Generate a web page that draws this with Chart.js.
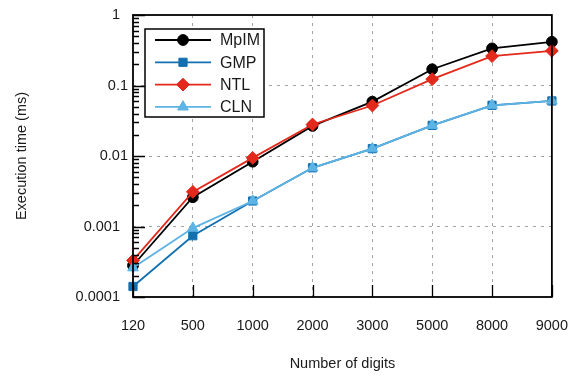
<!DOCTYPE html>
<html lang="en">
<head>
    <meta charset="UTF-8">
    <title>Execution time vs number of digits</title>
    <script src="https://cdn.jsdelivr.net/npm/chart.js"></script>
    <style>
body {
    margin: 0;
    padding: 0;
    background-color: #fff;
}

.chart-container {
    width: 588px;
    height: 376px;
}
    </style>
</head>
<body>
    <div class="chart-container">
        <canvas id="timeChart" width="588" height="376"></canvas>
    </div>

    <script>
        // Data
        const digits = ['120', '500', '1000', '2000', '3000', '5000', '8000', '9000'];
        const mpimTimes = [0.00028, 0.0026, 0.0083, 0.0267, 0.059, 0.17, 0.336, 0.417];
        const gmpTimes = [0.000141, 0.00074, 0.0023, 0.0068, 0.0127, 0.0272, 0.0524, 0.0604];
        const ntlTimes = [0.00033, 0.0031, 0.0094, 0.028, 0.052, 0.123, 0.261, 0.31];
        const clnTimes = [0.00026, 0.00095, 0.0023, 0.0068, 0.0127, 0.0272, 0.0524, 0.0604];

        // Tick labels for the log axis
        const yMajorTicks = [0.0001, 0.001, 0.01, 0.1, 1];
        const yMinorSteps = [2, 3, 4, 5, 6, 7, 8, 9];

        const FONT = "'Liberation Sans', Arial, sans-serif";
        const TEXT = '#1a1a1a';
        const GRID = '#a2a2a2';

        const yAllTicks = [];
        yMajorTicks.forEach((m, i) => {
            yAllTicks.push(m);
            if (i < yMajorTicks.length - 1) {
                yMinorSteps.forEach(s => yAllTicks.push(+(m * s).toPrecision(3)));
            }
        });

        function isMajor(v) {
            return yMajorTicks.some(m => Math.abs(m - v) / m < 1e-6);
        }

        // frame, inward tick marks and the boxed legend
        const framePlugin = {
            id: 'frame',
            afterDatasetsDraw(chart) {
                const ctx = chart.ctx;
                const area = chart.chartArea;
                const x = chart.scales.x;
                const y = chart.scales.y;
                ctx.save();
                ctx.strokeStyle = '#000';
                ctx.lineWidth = 1.3;
                ctx.beginPath();
                yAllTicks.forEach(v => {
                    const py = Math.round(y.getPixelForValue(v)) + 0.5;
                    const len = isMajor(v) ? 12 : 6;
                    ctx.moveTo(area.left, py);
                    ctx.lineTo(area.left + len, py);
                });
                digits.forEach((d, i) => {
                    const px = Math.round(x.getPixelForValue(i)) + 0.5;
                    ctx.moveTo(px, area.bottom);
                    ctx.lineTo(px, area.bottom - 12);
                });
                ctx.stroke();
                ctx.lineWidth = 1.8;
                ctx.strokeRect(area.left, area.top, area.right - area.left, area.bottom - area.top);

                // legend
                const lx = area.left + 12;
                const ly = area.top + 14;
                ctx.fillStyle = '#fff';
                ctx.fillRect(lx, ly, 119, 88);
                ctx.strokeStyle = '#000';
                ctx.lineWidth = 1.5;
                ctx.strokeRect(lx, ly, 119, 88);
                ctx.font = '16px ' + FONT;
                ctx.textBaseline = 'middle';
                ctx.textAlign = 'left';
                chart.data.datasets.forEach((ds, i) => {
                    const ry = ly + 11 + i * 22.3;
                    ctx.strokeStyle = ds.borderColor;
                    ctx.lineWidth = ds.borderWidth;
                    ctx.beginPath();
                    ctx.moveTo(lx + 10, ry);
                    ctx.lineTo(lx + 66, ry);
                    ctx.stroke();
                    ctx.fillStyle = ds.pointBackgroundColor;
                    ctx.strokeStyle = ds.pointBorderColor;
                    ctx.lineWidth = ds.pointBorderWidth;
                    Chart.helpers.drawPoint(ctx, {
                        pointStyle: ds.pointStyle,
                        radius: ds.pointRadius,
                        borderWidth: ds.pointBorderWidth
                    }, lx + 38, ry);
                    ctx.fillStyle = TEXT;
                    ctx.fillText(ds.label, lx + 75, ry + 1);
                });
                ctx.restore();
            }
        };

        function series(label, data, color, style, radius, order) {
            return {
                label: label,
                data: data,
                borderColor: color,
                backgroundColor: color,
                pointBackgroundColor: color,
                pointBorderColor: color,
                pointStyle: style,
                pointRadius: radius,
                pointBorderWidth: 1,
                borderWidth: 1.8,
                tension: 0,
                order: order
            };
        }

        const ctx = document.getElementById('timeChart').getContext('2d');
        const timeChart = new Chart(ctx, {
            type: 'line',
            data: {
                labels: digits,
                datasets: [
                    series('MpIM', mpimTimes, '#000000', 'circle', 5.4, 3),
                    series('GMP', gmpTimes, '#1270b0', 'rect', 5.8, 2),
                    series('NTL', ntlTimes, '#e3281c', 'rectRot', 6.4, 1),
                    series('CLN', clnTimes, '#5cb3e4', 'triangle', 6.2, 0)
                ]
            },
            options: {
                responsive: false,
                animation: false,
                layout: {
                    padding: { left: 0, right: 27, top: 15, bottom: 0 }
                },
                plugins: {
                    legend: { display: false },
                    tooltip: { enabled: false }
                },
                scales: {
                    x: {
                        type: 'category',
                        offset: false,
                        grid: {
                            color: ctx => (ctx.index === 0 || ctx.index === digits.length - 1) ? 'transparent' : GRID,
                            lineWidth: 1,
                            drawTicks: false
                        },
                        border: { display: false, dash: [3, 5] },
                        ticks: {
                            color: TEXT,
                            font: { family: FONT, size: 14.5 },
                            padding: 20,
                            maxRotation: 0,
                            autoSkip: false
                        },
                        title: {
                            display: true,
                            text: 'Number of digits',
                            color: TEXT,
                            font: { family: FONT, size: 14.5 },
                            padding: { top: 0, bottom: 3 }
                        },
                        afterFit(scale) {
                            scale.height = 79;
                        }
                    },
                    y: {
                        type: 'logarithmic',
                        min: 0.0001,
                        max: 1,
                        afterBuildTicks(scale) {
                            scale.ticks = yAllTicks.map(v => ({ value: v, major: isMajor(v) }));
                        },
                        grid: {
                            color: ctx => (ctx.tick && isMajor(ctx.tick.value) && ctx.tick.value !== 1 && ctx.tick.value !== 0.0001) ? GRID : 'transparent',
                            lineWidth: 1,
                            drawTicks: false
                        },
                        border: { display: false, dash: [3, 5] },
                        ticks: {
                            color: TEXT,
                            font: { family: FONT, size: 14.5 },
                            padding: 5,
                            autoSkip: false,
                            callback(value) {
                                if (!isMajor(value)) return '';
                                const s = String(+value.toPrecision(2));
                                // the reference sets 0.1 and 0.01 a bit closer to the axis
                                return (s === '0.1' || s === '0.01') ? s : s + '  ';
                            }
                        },
                        title: {
                            display: true,
                            text: 'Execution time (ms)',
                            color: TEXT,
                            font: { family: FONT, size: 14.5 },
                            padding: { top: 13, bottom: 0 }
                        },
                        afterFit(scale) {
                            scale.width = 133;
                        }
                    }
                }
            },
            plugins: [framePlugin]
        });
    </script>
</body>
</html>
